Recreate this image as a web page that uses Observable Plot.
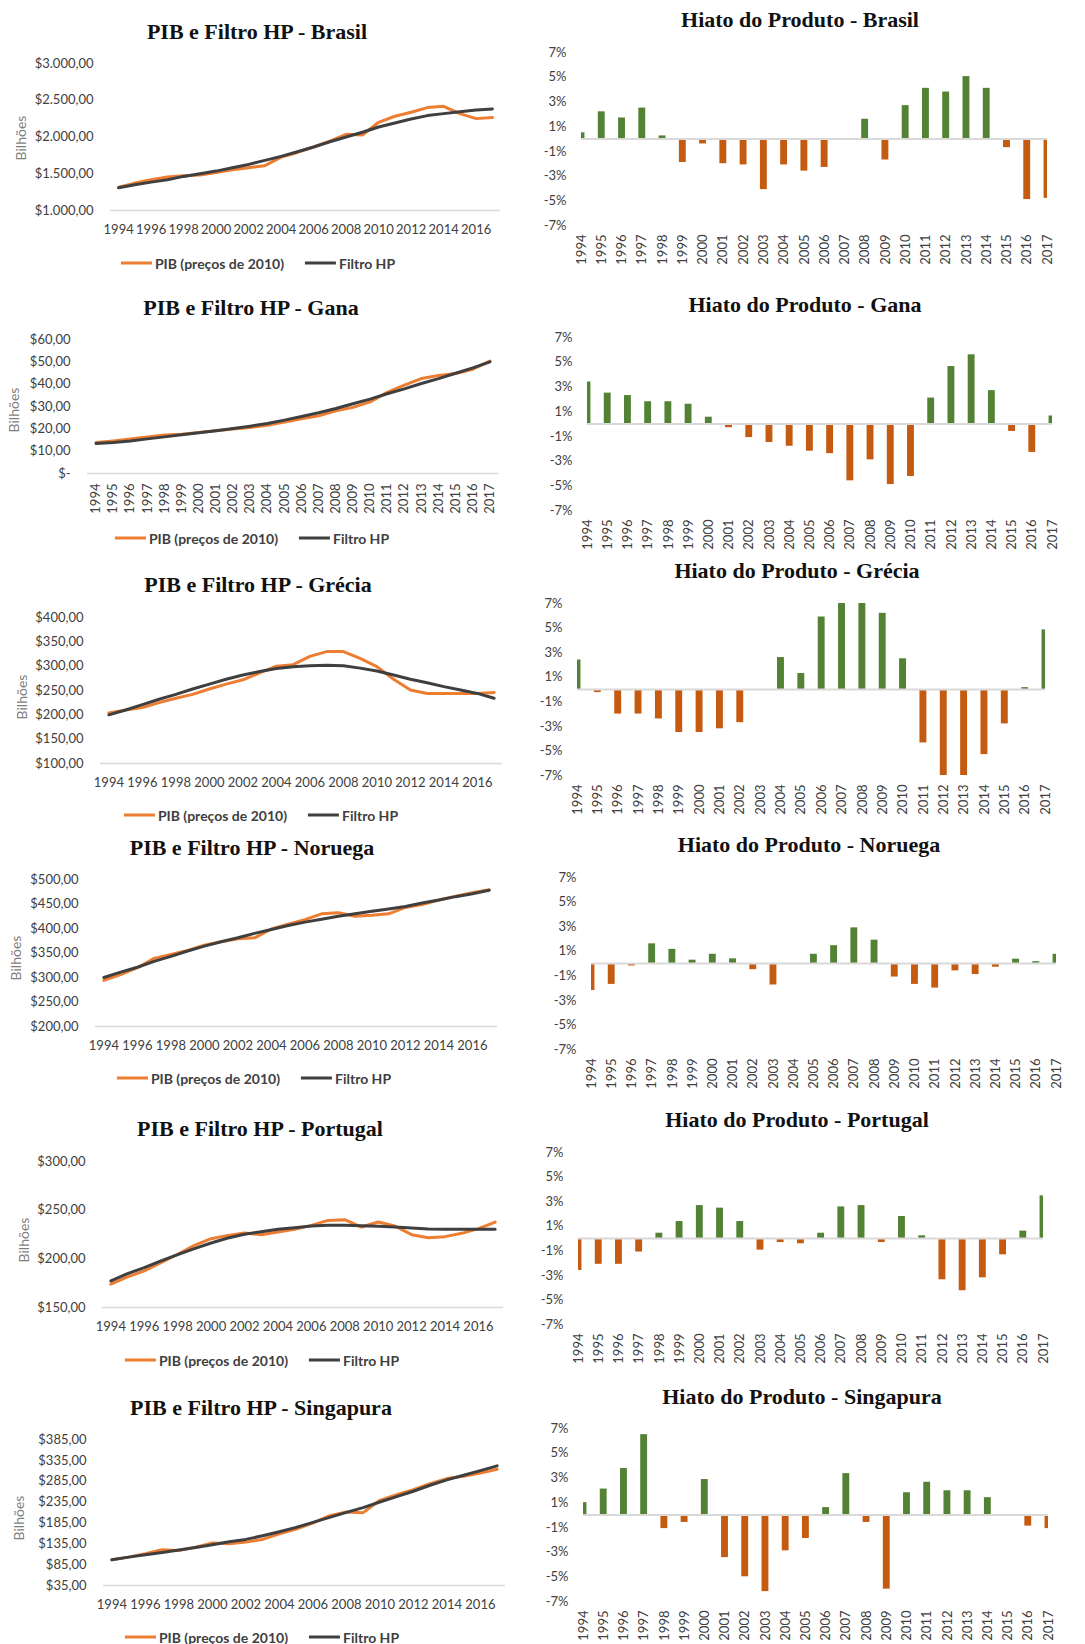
<!DOCTYPE html>
<html>
<head>
<meta charset="utf-8">
<script src="https://cdn.jsdelivr.net/npm/d3@7"></script>
<script src="https://cdn.jsdelivr.net/npm/@observablehq/plot@0.6"></script>
<style>
  body { margin: 0; background: #fff; }
  #page { position: relative; width: 1085px; height: 1644px; overflow: hidden; background: #fff;
          font-family: Lato, "Liberation Sans", Arial, sans-serif; }
  .abs { position: absolute; }
  .title { font: bold 22px "Liberation Serif", "Times New Roman", serif; color: #111;
           white-space: nowrap; transform: translate(-50%, -50%); }
  .ylab { font-size: 14px; color: #7f7f7f; white-space: nowrap;
          transform: translate(-50%, -50%) rotate(-90deg); }
  .legend { transform: translate(-50%, -50%); white-space: nowrap; font-weight: bold;
            font-size: 14px; color: #404040; display: flex; align-items: center; }
  .sw { display: inline-block; width: 31px; height: 3.5px; margin-right: 3px; }
  .gapL { display: inline-block; width: 21px; }
</style>
</head>
<body>
<div id="page"></div>
<script>
// ---- data (US$ bilhões, preços de 2010; hiato em %) ----
const years = [1994, 1995, 1996, 1997, 1998, 1999, 2000, 2001, 2002, 2003, 2004, 2005,
               2006, 2007, 2008, 2009, 2010, 2011, 2012, 2013, 2014, 2015, 2016, 2017];
const evenYears = [1994, 1996, 1998, 2000, 2002, 2004, 2006, 2008, 2010, 2012, 2014, 2016];
const gapTicks = [-7, -5, -3, -1, 1, 3, 5, 7];

const brasilPIB = [1317, 1373, 1418, 1455, 1473, 1482, 1518, 1555, 1582, 1610, 1727, 1790,
                   1864, 1945, 2036, 2027, 2200, 2282, 2336, 2400, 2418, 2318, 2250, 2264];
const brasilHP  = [1310, 1350, 1386, 1418, 1464, 1500, 1536, 1582, 1627, 1682, 1736, 1800,
                   1864, 1936, 2000, 2064, 2136, 2191, 2245, 2291, 2318, 2345, 2368, 2382];
const brasilHiato = [0.5, 2.2, 1.7, 2.5, 0.25, -1.9, -0.4, -2.0, -2.1, -4.1, -2.1, -2.6,
                     -2.3, 0, 1.6, -1.7, 2.7, 4.1, 3.8, 5.05, 4.1, -0.7, -4.9, -4.8];
const brasilTicks = [1000, 1500, 2000, 2500, 3000];

const ganaPIB = [13.9, 14.6, 15.4, 16.4, 17.2, 17.6, 18.4, 19.1, 19.9, 20.6, 21.6, 23.1,
                 24.5, 25.8, 28.1, 29.6, 32.1, 36.3, 39.6, 42.5, 43.9, 44.8, 46.7, 50.3];
const ganaHP  = [13.4, 13.9, 14.6, 15.5, 16.4, 17.3, 18.2, 19.1, 20.1, 21.2, 22.4, 23.9,
                 25.5, 27.2, 29.1, 31.2, 33.3, 35.7, 37.9, 40.3, 42.5, 44.9, 47.3, 50.0];
const ganaHiato = [3.4, 2.5, 2.3, 1.8, 1.8, 1.6, 0.55, -0.3, -1.1, -1.5, -1.8, -2.2,
                   -2.4, -4.6, -2.9, -4.9, -4.25, 2.1, 4.65, 5.6, 2.7, -0.6, -2.3, 0.65];
const ganaTicks = [0, 10, 20, 30, 40, 50, 60];

const greciaPIB = [204, 210, 215, 225, 234, 242, 253, 263, 272, 286, 300, 303,
                   320, 330, 330, 316, 299, 273, 251, 244, 244, 244, 244, 246];
const greciaHP  = [200, 210, 221, 232, 242, 253, 263, 273, 282, 289, 295, 299,
                   301, 302, 301, 296, 290, 282, 273, 266, 258, 251, 244, 234];
const greciaHiato = [2.4, -0.25, -2.0, -2.0, -2.4, -3.5, -3.5, -3.2, -2.7, 0, 2.6, 1.3,
                     5.9, 7.0, 7.0, 6.2, 2.5, -4.35, -7.0, -7.0, -5.3, -2.8, 0.15, 4.85];
const greciaTicks = [100, 150, 200, 250, 300, 350, 400];

const noruegaPIB = [294, 306, 320, 339, 347, 355, 366, 373, 379, 381, 399, 409,
                    418, 430, 432, 425, 427, 430, 443, 449, 458, 466, 473, 479];
const noruegaHP  = [300, 311, 321, 333, 343, 354, 364, 373, 381, 390, 398, 406,
                    413, 419, 425, 430, 435, 440, 445, 452, 458, 465, 471, 478];
const noruegaHiato = [-2.2, -1.7, -0.2, 1.6, 1.15, 0.27, 0.75, 0.38, -0.5, -1.75, 0, 0.75,
                      1.45, 2.9, 1.9, -1.1, -1.7, -2.0, -0.6, -0.9, -0.3, 0.35, 0.15, 0.75];
const noruegaTicks = [200, 250, 300, 350, 400, 450, 500];

const portugalPIB = [173.9, 181.4, 187.6, 196.1, 204.7, 213.9, 220.7, 224.1, 226.5, 224.8, 227.6, 230.3,
                     234.4, 239.5, 240.2, 232.7, 237.8, 233.7, 224.8, 221.7, 222.8, 226.2, 231.0, 237.8];
const portugalHP  = [177.3, 184.8, 191.0, 197.8, 204.3, 210.5, 216.3, 221.4, 225.2, 227.9, 230.3, 232.0,
                     233.7, 234.4, 234.4, 234.0, 233.4, 232.7, 231.7, 230.6, 230.3, 230.3, 230.3, 230.3];
const portugalHiato = [-2.6, -2.1, -2.1, -1.1, 0.43, 1.38, 2.68, 2.47, 1.38, -0.95, -0.33, -0.43,
                       0.43, 2.57, 2.68, -0.33, 1.79, 0.22, -3.36, -4.25, -3.2, -1.33, 0.6, 3.47];
const portugalTicks = [150, 200, 250, 300];

const singapuraPIB = [96.7, 103, 111, 120.7, 119, 127, 136.7, 135, 139, 145.5, 159, 170.4,
                      184.8, 202.4, 211.2, 209.6, 239.2, 252.8, 264.9, 279.3, 291.3, 296.9, 304.9, 313.7];
const singapuraHP  = [96.7, 103, 108.7, 114.3, 119.9, 126.3, 132.7, 139.9, 145.5, 154.3, 164, 174.4,
                      186.4, 198.4, 210.4, 221.6, 235.2, 248, 260.9, 275.3, 288.1, 299.3, 310.5, 321.7];
const singapuraHiato = [1.0, 2.1, 3.76, 6.5, -1.1, -0.6, 2.87, -3.45, -5.0, -6.2, -2.9, -1.9,
                        0.6, 3.35, -0.6, -6.0, 1.8, 2.65, 1.96, 1.96, 1.4, 0, -0.9, -1.1];
const singapuraTicks = [35, 85, 135, 185, 235, 285, 335, 385];

// ---- styling ----
const orangeLine = "#ED7D31";
const darkLine = "#3F3F3F";
const greenBar = "#548235";
const orangeBar = "#C55A11";
const axisFont = { fontFamily: 'Lato, "Liberation Sans", Arial, sans-serif', fontSize: "13px",
                   color: "#404040", background: "transparent", overflow: "visible" };

const fmt = d3.formatLocale({ decimal: ",", thousands: ".", grouping: [3], currency: ["$", ""] }).format("$,.2f");
const moneyTick = d => d === 0 ? "$-" : fmt(d);

const page = document.getElementById("page");

function addDiv(cls, html, x, y) {
  const el = document.createElement("div");
  el.className = "abs " + cls;
  el.style.left = x + "px";
  el.style.top = y + "px";
  el.innerHTML = html;
  page.appendChild(el);
  return el;
}

function placeSvg(svg, left, top) {
  svg.style.position = "absolute";
  svg.style.left = left + "px";
  svg.style.top = top + "px";
  page.appendChild(svg);
}

// GDP vs HP trend panel
function lineChart(p) {
  const rows = years.map((year, i) => ({ year, pib: p.pib[i], hp: p.hp[i] }));
  const mL = 82, mR = 15, mT = 10, mB = p.rotate ? 50 : 40;
  const svg = Plot.plot({
    width: p.x1 - p.x0 + mL + mR,
    height: p.yB - p.yT + mT + mB,
    marginLeft: mL, marginRight: mR, marginTop: mT, marginBottom: mB,
    style: axisFont,
    x: { domain: [1993.5, 2017.5], ticks: p.rotate ? years : evenYears, tickFormat: d => String(d),
         tickSize: 0, tickPadding: p.rotate ? 10 : 14, tickRotate: p.rotate ? -90 : 0, label: null },
    y: { domain: [p.ticks[0], p.ticks[p.ticks.length - 1]], ticks: p.ticks, tickFormat: moneyTick,
         tickSize: 0, tickPadding: 17, label: null },
    marks: [
      Plot.ruleY([p.ticks[0]], { stroke: "#d9d9d9", strokeWidth: 1.5 }),
      Plot.lineY(rows, { x: "year", y: "pib", stroke: orangeLine, strokeWidth: 3 }),
      Plot.lineY(rows, { x: "year", y: "hp", stroke: darkLine, strokeWidth: 3 })
    ]
  });
  placeSvg(svg, p.x0 - mL, p.yT - mT);
  addDiv("title", "PIB e Filtro HP - " + p.name, p.tx, p.ty);
  addDiv("ylab", "Bilhões", p.bx, p.by);
  addDiv("legend",
    `<span class="sw" style="background:${orangeLine}"></span>PIB (preços de 2010)<span class="gapL"></span>` +
    `<span class="sw" style="background:${darkLine}"></span>Filtro HP`, p.lx, p.ly);
}

// output-gap bar panel
function barChart(p) {
  const rows = years.map((year, i) => ({ year, gap: p.gap[i] }));
  const mL = 45, mR = 12, mT = 8, mB = 45;
  const svg = Plot.plot({
    width: p.xR - p.xL + mL + mR,
    height: p.yB - p.yT + mT + mB,
    marginLeft: mL, marginRight: mR, marginTop: mT, marginBottom: mB,
    style: axisFont,
    x: { domain: [1994, 2017], ticks: years, tickFormat: d => String(d), tickRotate: -90,
         tickSize: 0, tickPadding: 9, label: null },
    y: { domain: [-7, 7], ticks: gapTicks, tickFormat: d => d + "%", tickSize: 0, tickPadding: 15, label: null },
    marks: [
      Plot.rect(rows, { x1: d => d.year - 0.17, x2: d => d.year + 0.17, y1: 0, y2: "gap",
                        fill: d => d.gap >= 0 ? greenBar : orangeBar, clip: true }),
      Plot.ruleY([0], { stroke: "#d9d9d9", strokeWidth: 2 })
    ]
  });
  placeSvg(svg, p.xL - mL, p.yT - mT);
  addDiv("title", "Hiato do Produto - " + p.name, p.tx, p.ty);
}

// ---- panels ----
lineChart({ name: "Brasil", pib: brasilPIB, hp: brasilHP, ticks: brasilTicks,
  x0: 110, x1: 500, yT: 63, yB: 210, tx: 257, ty: 32, bx: 20, by: 138, lx: 258, ly: 263 });
barChart({ name: "Brasil", gap: brasilHiato, xL: 581, xR: 1047, yT: 52, yB: 225, tx: 800, ty: 20 });

lineChart({ name: "Gana", pib: ganaPIB, hp: ganaHP, ticks: ganaTicks, rotate: true,
  x0: 87, x1: 498, yT: 339, yB: 473, tx: 251, ty: 308, bx: 13, by: 410, lx: 252, ly: 538 });
barChart({ name: "Gana", gap: ganaHiato, xL: 587, xR: 1052, yT: 337, yB: 510, tx: 805, ty: 305 });

lineChart({ name: "Grécia", pib: greciaPIB, hp: greciaHP, ticks: greciaTicks,
  x0: 100, x1: 502, yT: 617, yB: 763, tx: 258, ty: 585, bx: 21, by: 697, lx: 261, ly: 815 });
barChart({ name: "Grécia", gap: greciaHiato, xL: 577, xR: 1045, yT: 603, yB: 775, tx: 797, ty: 571 });

lineChart({ name: "Noruega", pib: noruegaPIB, hp: noruegaHP, ticks: noruegaTicks,
  x0: 95, x1: 497, yT: 879, yB: 1026, tx: 252, ty: 848, bx: 15, by: 958, lx: 254, ly: 1078 });
barChart({ name: "Noruega", gap: noruegaHiato, xL: 591, xR: 1056, yT: 877, yB: 1049, tx: 809, ty: 845 });

lineChart({ name: "Portugal", pib: portugalPIB, hp: portugalHP, ticks: portugalTicks,
  x0: 102, x1: 503, yT: 1161, yB: 1307, tx: 260, ty: 1129, bx: 23, by: 1240, lx: 262, ly: 1360 });
barChart({ name: "Portugal", gap: portugalHiato, xL: 578, xR: 1043, yT: 1152, yB: 1324, tx: 797, ty: 1120 });

lineChart({ name: "Singapura", pib: singapuraPIB, hp: singapuraHP, ticks: singapuraTicks,
  x0: 103, x1: 505, yT: 1439, yB: 1585, tx: 261, ty: 1408, bx: 18, by: 1518, lx: 262, ly: 1637 });
barChart({ name: "Singapura", gap: singapuraHiato, xL: 583, xR: 1048, yT: 1428, yB: 1601, tx: 802, ty: 1397 });
</script>
</body>
</html>
